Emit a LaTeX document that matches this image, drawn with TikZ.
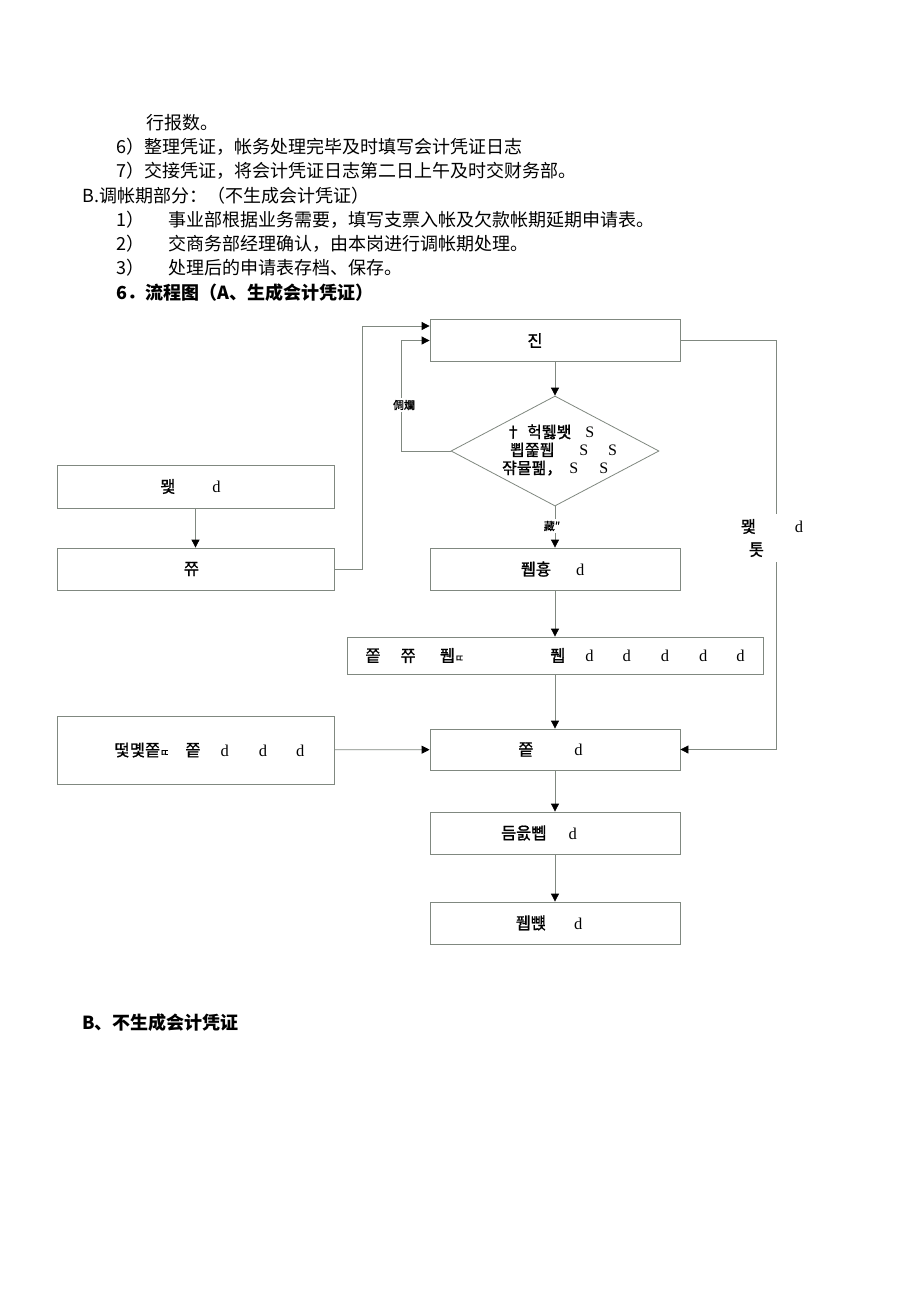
\documentclass[tikz,border=0pt]{standalone}
\usepackage{fontspec}
\setmainfont{Liberation Serif}
\newfontfamily\zh{Noto Sans CJK SC}
\newfontfamily\kr[FakeBold=1]{Noto Sans CJK KR}
\usetikzlibrary{shapes.geometric,arrows.meta}
\definecolor{edge}{RGB}{128,136,128}
\newcommand\romd[1]{{\rmfamily #1}}
\newcommand\trail[1]{\hspace{#1}\mbox{}}

\begin{document}
\begin{tikzpicture}[x=1pt,y=-1pt,every node/.style={inner sep=0pt},
  txt/.style={anchor=west,font=\zh\fontsize{18}{18}\selectfont},
  head/.style={txt,font=\zh\bfseries\fontsize{18}{18}\selectfont},
  box/.style={draw=edge,line width=.8pt,minimum width=250pt,minimum height=42pt,font=\kr\fontsize{16.5}{16.5}\selectfont},
  wbox/.style={box,minimum width=277pt},
  dia/.style={shape=diamond,draw=edge,line width=.8pt,minimum width=208pt,minimum height=110pt},
  tag/.style={fill=white,inner sep=1.5pt,font=\kr\fontsize{11}{11}\selectfont},
  arr/.style={draw=edge,line width=.8pt,-{Triangle[width=8pt,length=8pt,color=black]}}]
\useasboundingbox[fill=white] (0,0) rectangle (920,1302);

% text above the chart
\node[txt] (l0) at (146,123) {行报数。};
\node[txt] (l1) at (116,147) {6）整理凭证，帐务处理完毕及时填写会计凭证日志};
\node[txt] (l2) at (116,171) {7）交接凭证，将会计凭证日志第二日上午及时交财务部。};
\node[txt] (l3) at (82,196) {B.调帐期部分：（不生成会计凭证）};
\node[txt] (l4) at (116,220) {\makebox[52pt][l]{1）}事业部根据业务需要，填写支票入帐及欠款帐期延期申请表。};
\node[txt] (l5) at (116,244) {\makebox[52pt][l]{2）}交商务部经理确认，由本岗进行调帐期处理。};
\node[txt] (l6) at (116,268) {\makebox[52pt][l]{3）}处理后的申请表存档、保存。};
\node[head] (title) at (116,293) {6．流程图（A、生成会计凭证）};

% chart
\node[box] (verify) at (555,340.5) {진\trail{40pt}};
\node[dia] (check) at (555,451) {};
\node[anchor=west,align=left,font=\kr\fontsize{16}{18}\selectfont] (cond) at (502,450)
  {\hspace*{3pt}†\hspace{6pt}헉뛣봿\hspace{14pt}\romd{S}\\
   \hspace*{8pt}뾥쭕퓁\hspace{25pt}\romd{S}\hspace{20pt}\romd{S}\\
   쟊뮬펢，\hspace{7pt}\romd{S}\hspace{21pt}\romd{S}};
\node[wbox,minimum height=43pt] (apply) at (195.5,486.5) {뫷\hspace{37pt}\romd{d}\trail{10pt}};
\node[wbox] (sign) at (195.5,569) {쮸\trail{8pt}};
\node[box] (entry) at (555,569) {퓁흉\hspace{25pt}\romd{d}\trail{5pt}};
\node[box,minimum width=416pt,minimum height=37pt] (wide) at (555,655.5)
  {쫕\hspace{20pt}쮸\hspace{24pt}퓁{\fontsize{10}{10}\selectfont ㄸ}\hspace{86pt}퓁\hspace{20pt}\romd{d}\hspace{29pt}\romd{d}\hspace{30pt}\romd{d}\hspace{30pt}\romd{d}\hspace{29pt}\romd{d}};
\node[wbox,minimum height=68pt] (other) at (195.5,750)
  {\mbox{}\hspace{28pt}떷몣쫕{\fontsize{10}{10}\selectfont ㄸ}\hspace{16pt}쫕\hspace{20pt}\romd{d}\hspace{30pt}\romd{d}\hspace{29pt}\romd{d}};
\node[box,minimum height=41pt] (voucher) at (555,749.5) {쫕\hspace{41pt}\romd{d}\trail{9pt}};
\node[box] (post) at (555,833) {듬읈뼵\hspace{22pt}\romd{d}\trail{32pt}};
\node[box] (archive) at (555,923) {퓁뺹\hspace{28pt}\romd{d}\trail{12pt}};

\draw[arr] (verify) -- (check);
\draw[arr] (check) -- (entry);
\draw[arr] (check.west) -- ++(-49,0) |- (verify.west);
\draw[arr] (sign.east) -- ++(28,0) |- ([yshift=14.5pt]verify.west);
\draw[arr] (verify.east) -- ++(96,0) |- (voucher.east);
\draw[arr] (apply) -- (sign);
\draw[arr] (entry) -- (wide);
\draw[arr] (wide) -- (voucher);
\draw[arr] (other) -- (voucher);
\draw[arr] (voucher) -- (post);
\draw[arr] (post) -- (archive);

\node[tag] (back) at (404,405) {倜斕};
\node[tag] (pass) at (552,526) {藏″};
\node[tag,inner xsep=2pt,inner ysep=5pt,align=left,font=\kr\fontsize{16.5}{23}\selectfont] (skip) at (772,538)
  {뫷\hspace{39pt}\romd{d}\\\hspace*{8pt}톳};

\node[head] (tail) at (82,1023) {B、不生成会计凭证};
\end{tikzpicture}
\end{document}
